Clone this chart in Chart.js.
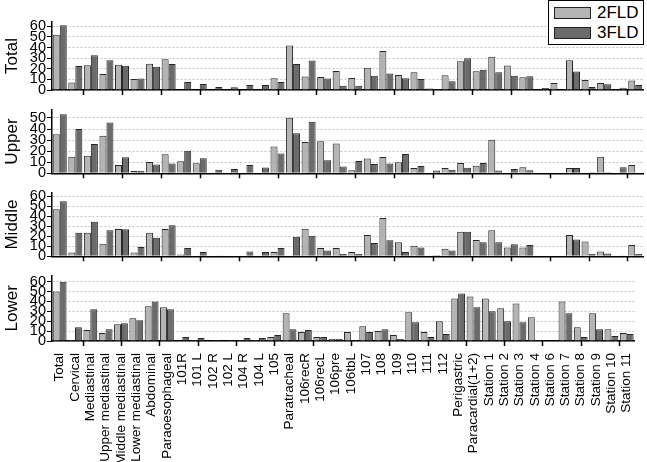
<!DOCTYPE html>
<html>
<head>
<meta charset="utf-8">
<script src="https://cdn.jsdelivr.net/npm/chart.js@4.4.1/dist/chart.umd.min.js"></script>
<style>
  body { margin: 0; background: #fff; }
  #wrap { position: relative; width: 647px; height: 462px; font-family: Arial, "Liberation Sans", sans-serif; }
  #wrap canvas { position: absolute; left: 0; }
  #legend { position: absolute; left: 548px; top: 0; width: 94px; height: 43px; border: 1px solid #000; background: #fff; }
  .row { position: absolute; left: 5px; height: 20px; display: flex; align-items: center; font-size: 17px; color: #000; }
  .sw { width: 35px; height: 10px; border: 1px solid #222; margin-right: 6px; }
</style>
</head>
<body>
<div id="wrap">
  <canvas id="c1" width="647" height="100" style="top:0"></canvas>
  <canvas id="c2" width="647" height="83" style="top:100px"></canvas>
  <canvas id="c3" width="647" height="83" style="top:183px"></canvas>
  <canvas id="c4" width="647" height="196" style="top:266px"></canvas>
  <div id="legend">
    <div class="row" style="top:2px"><div class="sw" style="background:#b4b4b4"></div>2FLD</div>
    <div class="row" style="top:22px"><div class="sw" style="background:#6b6b6b"></div>3FLD</div>
  </div>
</div>
<script>
// stations on the x axis
const stations = ['Total', 'Cervical', 'Mediastinal', 'Upper mediastinal', 'Middle mediastinal',
  'Lower mediastinal', 'Abdominal', 'Paraoesophageal', '101R', '101 L', '102 R', '102 L', '104 R',
  '104 L', '105', 'Paratracheal', '106recR', '106recL', '106pre', '106tbL', '107', '108', '109',
  '110', '111', '112', 'Perigastric', 'Paracardial(1+2)', 'Station 1', 'Station 2', 'Station 3',
  'Station 4', 'Station 6', 'Station 7', 'Station 8', 'Station 9', 'Station 10', 'Station 11'];

const seriesNames = ['2FLD', '3FLD'];
const yTicks = [0, 10, 20, 30, 40, 50, 60];

// values (%)
const total2 = [52, 7, 23.4, 15, 23.7, 10.4, 24.7, 29, 0, 0, 0, 0, 0, 0, 11, 41.8, 12.7, 12.3, 18, 11.4, 20.9, 36.7, 14.2, 16.8, 1.3, 13.9, 27, 17.7, 31.3, 23, 12, 0, 6.6, 28, 9.5, 6.6, 0.5, 8.9];
const total3 = [61, 22.5, 32.6, 28, 22.8, 10.8, 21.8, 24.4, 7.6, 5.7, 2.8, 2.5, 4.7, 4.7, 7.6, 24.4, 27.8, 10.8, 4.1, 4.1, 13.3, 15.5, 11, 10.4, 1, 8.2, 30, 19, 16.8, 13.3, 13, 2, 0, 17.4, 2.8, 5.4, 2.2, 4.7];

const upper2 = [35.3, 15, 15.8, 33.9, 7.5, 2, 10.3, 17.2, 10.8, 9, 0, 0, 0, 0, 24.2, 50.3, 28.3, 28.9, 27, 2.8, 13.3, 14.7, 10, 4.7, 0, 4.7, 9.4, 6.9, 30.3, 0, 5.5, 0, 0, 4.7, 0, 15, 0, 7.5];
const upper3 = [53.3, 40, 26.4, 46, 14.4, 2.3, 8, 8.9, 20.5, 13.6, 3.3, 3.9, 7.5, 5.3, 18, 36.1, 46.7, 11.7, 6.1, 11.1, 8.3, 8.9, 17.5, 6.7, 2.5, 3.3, 5, 9.2, 2.5, 4, 2.8, 0, 0, 4.7, 1, 1, 5.5, 0];

const middle2 = [47, 3.8, 23.5, 12.6, 27.3, 3.8, 23.5, 27.3, 1.8, 0, 0, 0, 0, 0, 4.4, 0, 27.6, 8.2, 8.2, 4.4, 21.2, 38.2, 14.1, 10.6, 0.9, 7.6, 24.4, 16.2, 25.9, 8.8, 8.8, 0, 0, 21.2, 14.7, 4.7, 0, 11.2];
const middle3 = [55, 23.5, 34.4, 26, 27, 9.4, 18.5, 31, 8.2, 4.4, 0.9, 0.6, 4.7, 4.4, 8.2, 19.4, 20.6, 5.9, 2.4, 2.4, 13.2, 15.9, 4.4, 8.8, 1, 5.9, 24.4, 14.1, 14.1, 12, 11.2, 0, 0, 16.8, 2.4, 2.9, 0.9, 2.4];

const lower2 = [50, 1, 11, 8, 17, 23, 35, 34, 0, 1, 0, 0, 1, 1, 4, 28, 9, 4, 2, 9, 15, 10, 6, 29, 9, 20, 43, 45, 43, 33, 38, 24, 0, 40, 14, 28, 12, 8];
const lower3 = [60, 14, 32, 12, 18, 21, 40, 32, 4, 3, 1, 1, 3, 3, 6, 12, 11, 4, 2, 1, 9, 12, 2, 19, 4, 7, 48, 34, 30, 20, 19, 1, 0, 28, 4, 12, 5, 7];

const FONT = 'Arial, "Liberation Sans", sans-serif';

// small tick marks under the x axis, every 2.5 categories
const xTickMarks = {
  id: 'xTickMarks',
  afterDraw(chart) {
    const x = chart.scales.x, ctx = chart.ctx;
    const yb = chart.chartArea.bottom;
    ctx.save();
    ctx.strokeStyle = '#000';
    ctx.lineWidth = 1.5;
    ctx.beginPath();
    for (let v = 1.5; v < stations.length; v += 2.5) {
      const px = Math.round(x.getPixelForValue(v)) + 0.5;
      ctx.moveTo(px, yb);
      ctx.lineTo(px, yb + 5);
    }
    ctx.stroke();
    ctx.restore();
  }
};

function makePanel(id, title, d2, d3, yMax, padTop, xHeight, showLabels) {
  const ctx = document.getElementById(id).getContext('2d');
  return new Chart(ctx, {
    type: 'bar',
    data: {
      labels: stations,
      datasets: [
        { label: seriesNames[0], data: d2, backgroundColor: '#b4b4b4', borderColor: '#262626', borderWidth: 1 },
        { label: seriesNames[1], data: d3, backgroundColor: '#6b6b6b', borderColor: '#262626', borderWidth: 1 }
      ]
    },
    options: {
      responsive: false,
      animation: false,
      devicePixelRatio: 1,
      layout: { padding: { top: padTop, right: 4, left: 0, bottom: 0 } },
      datasets: { bar: { categoryPercentage: 0.9, barPercentage: 1.0 } },
      plugins: { legend: { display: false }, tooltip: { enabled: false } },
      scales: {
        x: {
          grid: { display: false },
          border: { display: true, color: '#000', width: 1.5 },
          ticks: {
            display: showLabels,
            autoSkip: false,
            maxRotation: 90,
            minRotation: 90,
            padding: 4,
            color: '#000',
            font: { family: FONT, size: 13.5 }
          },
          afterFit(s) { s.height = xHeight; }
        },
        y: {
          min: 0,
          max: yMax,
          afterBuildTicks(s) { s.ticks = yTicks.filter(v => v <= yMax).map(v => ({ value: v })); },
          grid: { color: '#c4c4c4', tickColor: '#000', tickLength: 5, lineWidth: 1 },
          border: { display: true, color: '#000', width: 1.5, dash: [2, 2] },
          ticks: { color: '#000', padding: 1, autoSkip: false, font: { family: FONT, size: 14.5 } },
          title: { display: true, text: title, color: '#000', padding: { top: 2, bottom: 0 }, font: { family: FONT, size: 17 } },
          afterFit(s) { s.width = 52; }
        }
      }
    },
    plugins: [xTickMarks]
  });
}

makePanel('c1', 'Total', total2, total3, 64, 22, 10, false);
makePanel('c2', 'Upper', upper2, upper3, 57.5, 5, 9, false);
makePanel('c3', 'Middle', middle2, middle3, 63.5, 2, 9, false);
makePanel('c4', 'Lower', lower2, lower3, 66, 7, 121, true);
</script>
</body>
</html>
